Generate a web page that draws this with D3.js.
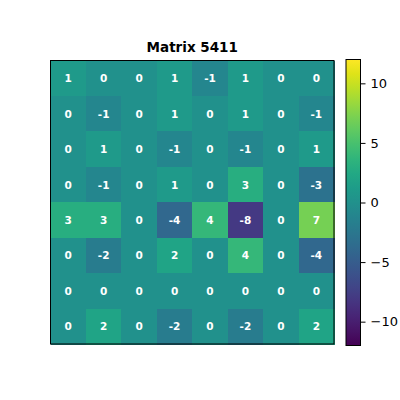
<!DOCTYPE html>
<html>
<head>
<meta charset="utf-8">
<script src="https://cdn.jsdelivr.net/npm/d3@7"></script>
<style>
  body { margin: 0; background: #fff; }
  svg { display: block; font-family: "DejaVu Sans", sans-serif; }
</style>
</head>
<body>
<div id="chart"></div>
<script>
// matrix values, row by row (top to bottom)
const rowLabels = [0, 1, 2, 3, 4, 5, 6, 7];
const colLabels = [0, 1, 2, 3, 4, 5, 6, 7];
const row0 = [1, 0, 0, 1, -1, 1, 0, 0];
const row1 = [0, -1, 0, 1, 0, 1, 0, -1];
const row2 = [0, 1, 0, -1, 0, -1, 0, 1];
const row3 = [0, -1, 0, 1, 0, 3, 0, -3];
const row4 = [3, 3, 0, -4, 4, -8, 0, 7];
const row5 = [0, -2, 0, 2, 0, 4, 0, -4];
const row6 = [0, 0, 0, 0, 0, 0, 0, 0];
const row7 = [0, 2, 0, -2, 0, -2, 0, 2];
const rows = [row0, row1, row2, row3, row4, row5, row6, row7];
const colorDomain = [-12, 12];
const cbarTicks = [-10, -5, 0, 5, 10];
const title = "Matrix 5411";

const width = 400, height = 400;
const svg = d3.select('#chart').append('svg')
    .attr('width', width)
    .attr('height', height);

const hm = { left: 50.5, top: 60.5, size: 283.5 };

const x = d3.scaleBand()
    .domain(colLabels)
    .range([hm.left, hm.left + hm.size]);
const y = d3.scaleBand()
    .domain(rowLabels)
    .range([hm.top, hm.top + hm.size]);
const color = d3.scaleSequential(d3.interpolateViridis).domain(colorDomain);

const cells = [];
rows.forEach((r, i) => r.forEach((v, j) => cells.push({ row: rowLabels[i], col: colLabels[j], value: v })));

svg.append('g')
    .selectAll('rect')
    .data(cells)
    .join('rect')
    .attr('x', d => x(d.col))
    .attr('y', d => y(d.row))
    .attr('width', x.bandwidth() + 0.5)
    .attr('height', y.bandwidth() + 0.5)
    .attr('fill', d => color(d.value))
    .attr('shape-rendering', 'crispEdges');

svg.append('g')
    .selectAll('text')
    .data(cells)
    .join('text')
    .attr('x', d => x(d.col) + x.bandwidth() / 2)
    .attr('y', d => y(d.row) + y.bandwidth() / 2)
    .attr('text-anchor', 'middle')
    .attr('dominant-baseline', 'central')
    .attr('fill', '#fff')
    .attr('font-weight', 'bold')
    .attr('font-size', 10.5)
    .text(d => d.value);

svg.append('rect')
    .attr('x', hm.left)
    .attr('y', hm.top)
    .attr('width', hm.size)
    .attr('height', hm.size)
    .attr('fill', 'none')
    .attr('stroke', '#000')
    .attr('stroke-width', 1);

svg.append('text')
    .attr('x', hm.left + hm.size / 2)
    .attr('y', hm.top - 9)
    .attr('text-anchor', 'middle')
    .attr('font-weight', 'bold')
    .attr('font-size', 13.5)
    .text(title);

// colorbar
const cb = { left: 346, top: 59.5, width: 14.5, height: 286 };
const cy = d3.scaleLinear()
    .domain(colorDomain)
    .range([cb.top + cb.height, cb.top]);

const defs = svg.append('defs');
const grad = defs.append('linearGradient')
    .attr('id', 'cbar')
    .attr('x1', 0).attr('y1', 1)
    .attr('x2', 0).attr('y2', 0);
d3.range(0, 1.0001, 0.05).forEach(t => {
    grad.append('stop')
        .attr('offset', t)
        .attr('stop-color', d3.interpolateViridis(t));
});

svg.append('rect')
    .attr('x', cb.left)
    .attr('y', cb.top)
    .attr('width', cb.width)
    .attr('height', cb.height)
    .attr('fill', 'url(#cbar)')
    .attr('stroke', '#000')
    .attr('stroke-width', 1);

const axis = svg.append('g')
    .attr('transform', `translate(${cb.left + cb.width},0)`)
    .call(d3.axisRight(cy).tickValues(cbarTicks).tickSize(5).tickPadding(5)
        .tickFormat(d => d < 0 ? '\u2212' + Math.abs(d) : d));
axis.select('.domain').remove();
axis.selectAll('text')
    .attr('font-size', 13)
    .attr('font-family', '"DejaVu Sans", sans-serif')
    .attr('fill', '#000');
axis.selectAll('line').attr('stroke', '#000');
</script>
</body>
</html>
